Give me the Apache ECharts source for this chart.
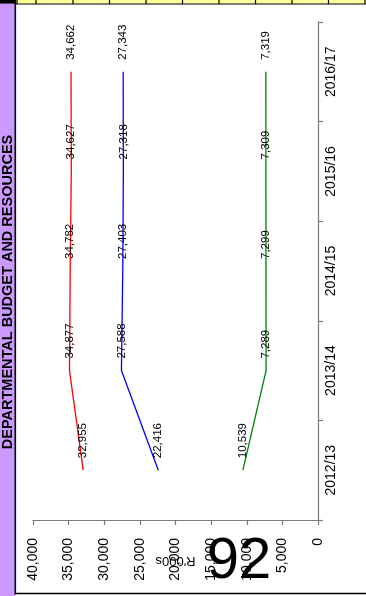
<!DOCTYPE html>
<html>
<head>
<meta charset="utf-8">
<script src="https://cdn.jsdelivr.net/npm/echarts@6/dist/echarts.min.js"></script>
<style>
html,body{margin:0;padding:0;background:#fff;}
#chart{width:366px;height:596px;}
</style>
</head>
<body>
<div id="chart"></div>
<script>
const categories = ['2012/13', '2013/14', '2014/15', '2015/16', '2016/17'];
const seriesRed = [32955, 34877, 34782, 34627, 34662];
const seriesBlue = [22416, 27588, 27403, 27318, 27343];
const seriesGreen = [10539, 7289, 7299, 7309, 7319];
const valueTicks = [0, 5000, 10000, 15000, 20000, 25000, 30000, 35000, 40000];
const sideTitle = 'DEPARTMENTAL BUDGET AND RESOURCES';
const axisTitle = "R'000s";
const pageNumber = '92';

const FONT = '"Liberation Sans", Arial, sans-serif';
const fmt = v => Number(v).toLocaleString('en-US');

function lineSeries(name, data, color) {
  return {
    name: name,
    type: 'line',
    data: data,
    symbol: 'circle',
    symbolSize: 0,
    showSymbol: true,
    lineStyle: { color: color, width: 1.3 },
    itemStyle: { color: color },
    label: {
      show: true,
      position: 'top',
      distance: 12,
      rotate: 90,
      align: 'left',
      verticalAlign: 'middle',
      color: '#000',
      fontFamily: FONT,
      fontSize: 11.5,
      formatter: p => fmt(p.value)
    },
    z: 3
  };
}

// top yellow band cells
const bandGraphics = [];
bandGraphics.push({ type: 'rect', shape: { x: 16, y: 0, width: 350, height: 3.6 }, style: { fill: '#FFFF99' }, z: 10, silent: true });
bandGraphics.push({ type: 'rect', shape: { x: 0, y: 0, width: 16, height: 3.6 }, style: { fill: '#000' }, z: 11, silent: true });
bandGraphics.push({ type: 'rect', shape: { x: 16, y: 3.4, width: 350, height: 1.1 }, style: { fill: '#000' }, z: 11, silent: true });
const seps = [17, 36, 73, 109.5, 146, 182.5, 219, 255.5, 292, 328.5, 365];
seps.forEach(sx => bandGraphics.push({ type: 'rect', shape: { x: sx - 0.6, y: 0, width: 1.2, height: 4 }, style: { fill: '#000' }, z: 11, silent: true }));

const option = {
  animation: false,
  backgroundColor: '#fff',
  grid: { left: 33, right: 48, top: 22, bottom: 76, containLabel: false },
  xAxis: {
    type: 'value',
    inverse: true,
    min: 0,
    max: 40000,
    interval: 5000,
    position: 'bottom',
    name: axisTitle,
    nameLocation: 'middle',
    nameRotate: 180,
    nameGap: 34,
    nameMoveOverlap: false,
    nameTextStyle: { fontFamily: FONT, fontSize: 13, color: '#000' },
    axisLine: { show: true, lineStyle: { color: '#7a7a7a', width: 1.2 } },
    axisTick: { show: true, length: 5, lineStyle: { color: '#7a7a7a', width: 1.2 } },
    axisLabel: {
      rotate: 90,
      margin: 18,
      fontFamily: FONT,
      fontSize: 14,
      color: '#000',
      customValues: valueTicks,
      formatter: v => fmt(v)
    },
    splitLine: { show: false }
  },
  yAxis: {
    type: 'category',
    position: 'right',
    data: categories,
    boundaryGap: true,
    axisLine: { show: true, lineStyle: { color: '#7a7a7a', width: 1.2 } },
    axisTick: { show: true, length: 5, lineStyle: { color: '#7a7a7a', width: 1.2 } },
    axisLabel: {
      rotate: 90,
      margin: 6,
      fontFamily: FONT,
      fontSize: 14,
      color: '#000'
    },
    splitLine: { show: false }
  },
  series: [
    lineSeries('Red', seriesRed, '#FF0000'),
    lineSeries('Blue', seriesBlue, '#0000FF'),
    lineSeries('Green', seriesGreen, '#008000')
  ],
  graphic: [
    { type: 'rect', shape: { x: 0, y: 0, width: 15, height: 596 }, style: { fill: '#CC99FF' }, z: 9, silent: true },
    { type: 'rect', shape: { x: 14.5, y: 0, width: 1.6, height: 594.5 }, style: { fill: '#000' }, z: 11, silent: true },
    { type: 'rect', shape: { x: 15, y: 592.8, width: 351, height: 1.4 }, style: { fill: '#000' }, z: 11, silent: true },
    ...bandGraphics,
    {
      type: 'text', x: 8.2, y: 292, rotation: Math.PI / 2, z: 12, silent: true,
      style: { text: sideTitle, fontFamily: FONT, fontSize: 14.5, fontWeight: 'bold', fill: '#000', align: 'center', verticalAlign: 'middle' }
    },
    {
      type: 'text', x: 239, y: 562, z: 20, silent: true,
      style: { text: pageNumber, fontFamily: FONT, fontSize: 58, fill: '#000', align: 'center', verticalAlign: 'middle' }
    }
  ]
};

const chart = echarts.init(document.getElementById('chart'), null, { renderer: 'canvas' });
chart.setOption(option);
</script>
</body>
</html>
